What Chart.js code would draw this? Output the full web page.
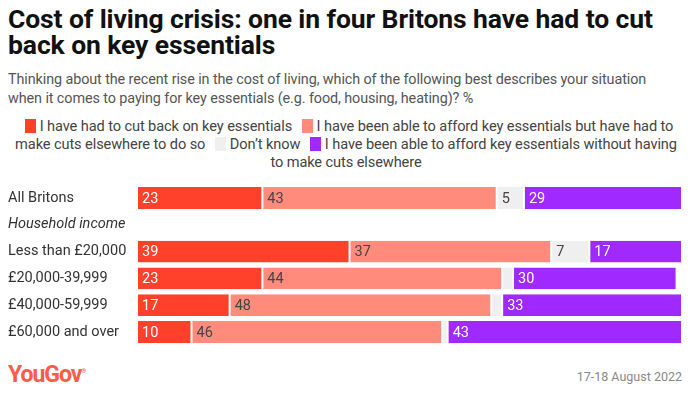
<!DOCTYPE html>
<html>
<head>
<meta charset="utf-8">
<script src="https://cdn.jsdelivr.net/npm/chart.js@4"></script>
<style>
  html, body { margin: 0; padding: 0; background: #fff; }
  body { width: 696px; height: 399px; position: relative; overflow: hidden; font-family: Roboto, "Noto Sans", sans-serif; }
  h1 { position: absolute; left: 8px; top: 6px; margin: 0; width: 670px; font-size: 26.5px; line-height: 26px; font-weight: 700; color: #111; letter-spacing: -0.1px; }
  .sub { position: absolute; left: 8px; top: 70px; width: 660px; font-size: 14.4px; line-height: 19px; color: #555; letter-spacing: -0.1px; }
  .legend { position: absolute; left: 8px; top: 117px; width: 676px; text-align: center; font-size: 14.6px; line-height: 18px; color: #444; letter-spacing: -0.1px; }
  .legend .sw { display: inline-block; width: 11px; height: 14px; vertical-align: -2px; margin: 0 4px 0 6px; }
  .chart { position: absolute; left: 0; top: 176px; width: 696px; height: 178px; }
  .logo { position: absolute; left: 8px; top: 361px; font-size: 23px; font-weight: 700; color: #ff5b4a; letter-spacing: -1px; }
  .logo sup { font-size: 6px; font-weight: 400; }
  .date { position: absolute; right: 14px; top: 369px; font-size: 12.5px; color: #888; }
</style>
</head>
<body>
<h1>Cost of living crisis: one in four Britons have had to cut back on key essentials</h1>
<div class="sub">Thinking about the recent rise in the cost of living, which of the following best describes your situation when it comes to paying for key essentials (e.g. food, housing, heating)? %</div>
<div class="legend" id="legend"></div>
<div class="chart"><canvas id="c"></canvas></div>
<div class="logo">YouGov<sup>®</sup></div>
<div class="date">17-18 August 2022</div>
<script>
const categories = ['All Britons', 'Household income', 'Less than £20,000', '£20,000-39,999', '£40,000-59,999', '£60,000 and over'];
const cutBack    = [23, null, 39, 23, 17, 10];
const cutsElse   = [43, null, 37, 44, 48, 46];
const dontKnow   = [5, null, 7, 2, 2, 1];
const noCuts     = [29, null, 17, 30, 33, 43];

const seriesNames = [
  'I have had to cut back on key essentials',
  'I have been able to afford key essentials but have had to make cuts elsewhere to do so',
  'Don\u2019t know',
  'I have been able to afford key essentials without having to make cuts elsewhere'
];
const colors = ['#ff412c', '#ff8b7c', '#efefef', '#9f29ff'];
const labelColors = ['#fff', '#444', '#444', '#fff'];

document.getElementById('legend').innerHTML = seriesNames.map((n, i) =>
  `<span class="sw" style="background:${colors[i]}"></span>${n}`).join(' ');

// labels drawn inside each bar, from the left edge
const valueLabels = {
  id: 'valueLabels',
  afterDatasetsDraw(chart) {
    const ctx = chart.ctx;
    ctx.save();
    ctx.font = '14.5px Roboto, sans-serif';
    ctx.textBaseline = 'middle';
    chart.data.datasets.forEach((ds, di) => {
      const meta = chart.getDatasetMeta(di);
      meta.data.forEach((bar, i) => {
        const v = ds.data[i];
        if (v == null || v < 3) return;
        const left = Math.min(bar.x, bar.base);
        ctx.fillStyle = labelColors[di];
        ctx.fillText(String(v), left + 5, bar.y + 1);
      });
    });
    ctx.restore();
  }
};

new Chart(document.getElementById('c'), {
  type: 'bar',
  data: {
    labels: categories,
    datasets: [cutBack, cutsElse, dontKnow, noCuts].map((d, i) => ({
      label: seriesNames[i],
      data: d,
      backgroundColor: colors[i],
      borderColor: '#fff',
      borderWidth: { left: 1, right: 1 },
      borderSkipped: false,
      categoryPercentage: 1,
      barPercentage: 0.82
    }))
  },
  options: {
    indexAxis: 'y',
    responsive: true,
    maintainAspectRatio: false,
    animation: false,
    layout: { padding: { left: 8, right: 14, top: 0, bottom: 0 } },
    plugins: { legend: { display: false }, tooltip: { enabled: false } },
    scales: {
      x: { stacked: true, min: 0, max: 100, display: false },
      y: {
        stacked: true,
        grid: { display: false },
        border: { display: false },
        ticks: {
          crossAlign: 'far',
          padding: 0,
          color: '#333',
          font: (c) => ({ family: 'Roboto, sans-serif', size: 14.5, style: c.index === 1 ? 'italic' : 'normal' })
        },
        afterFit(scale) { scale.width = 129; }
      }
    }
  },
  plugins: [valueLabels]
});
</script>
</body>
</html>
